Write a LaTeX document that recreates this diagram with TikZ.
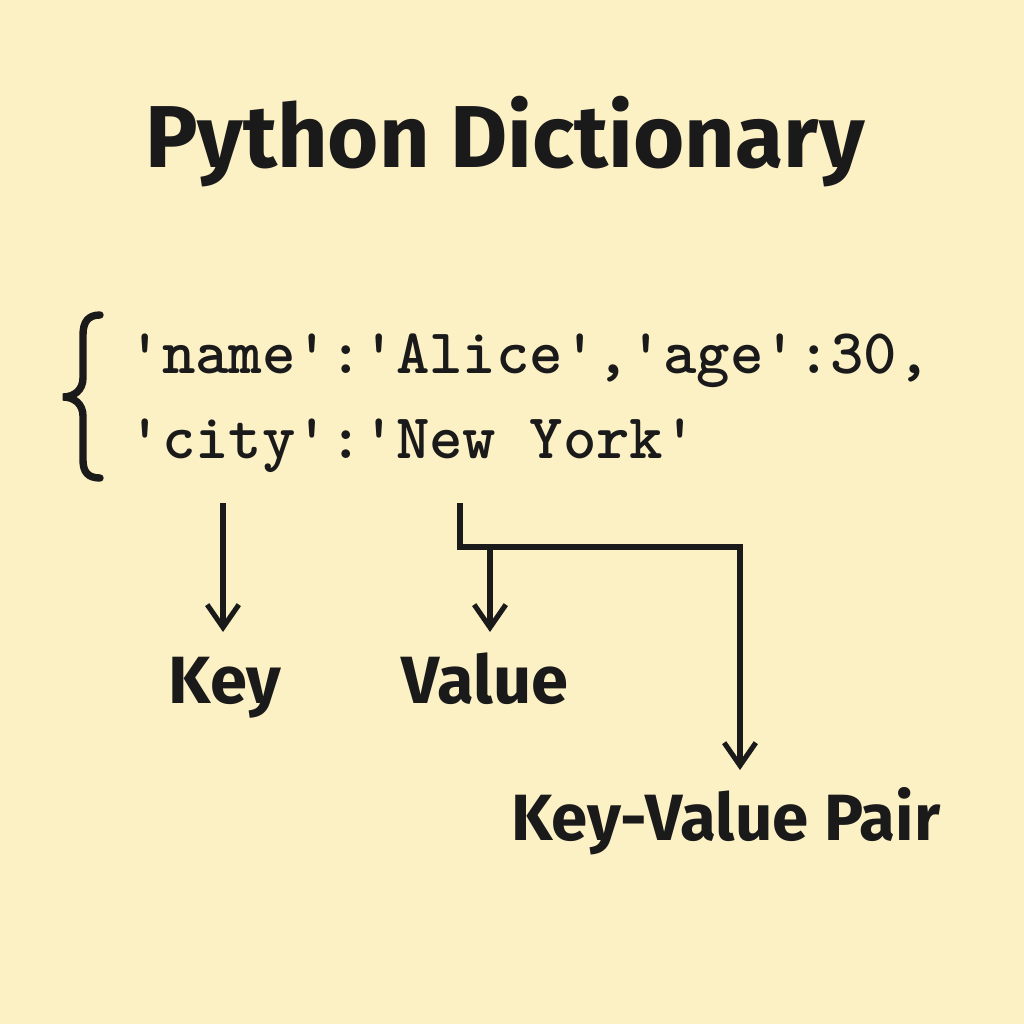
\documentclass[tikz,border=0pt]{standalone}
\usepackage{fontspec}
\setmainfont{Fira Sans}
\usepackage{xcolor}
\usetikzlibrary{arrows.meta}
\definecolor{paper}{HTML}{FCF0C5}
\definecolor{ink}{HTML}{1A1A1A}
\newcommand\lw{1.45pt}
\newcommand\tipgap{7pt}

\tikzset{
  arr/.style={draw=ink,line width=\lw,-{Straight Barb[length=6.5pt,width=9pt]}},
  lbl/.style={text=ink,font=\bfseries\fontsize{19}{22}\selectfont,inner sep=\tipgap,text height=13pt,anchor=base},
  code/.style={text=ink,font=\ttfamily\bfseries\fontsize{18.1}{20}\selectfont,inner sep=0pt,anchor=base west}
}

\begin{document}
\begin{tikzpicture}[x=0.01cm,y=-0.01cm]
    \fill[paper] (0,0) rectangle (1024,1024);
    \useasboundingbox (0,0) rectangle (1024,1024);

    \node[text=ink,font=\bfseries\fontsize{25}{30}\selectfont,inner sep=0pt,anchor=base] (title) at (505,167) {Python Dictionary};

    % the dict literal
    \draw[ink,line width=2.1pt,line cap=round] (100,315) .. controls (88,315) and (83,322) .. (83,335) -- (83,378)
      .. controls (83,390) and (74,397) .. (63,397) .. controls (74,397) and (83,404) .. (83,416) -- (83,460)
      .. controls (83,472) and (88,478) .. (100,478);
    \node[code] (line1) at (128,373) {'name':'Alice','age':30,};
    \node[code] (line2) at (128,458) {'city':'New York'};

    \node[lbl] (key) at (225,703) {Key};
    \node[lbl] (value) at (485,703) {Value};
    \node[lbl,font=\bfseries\fontsize{18.6}{20}\selectfont,text height=12.7pt] (pair) at (726,840) {Key-Value Pair};

    \coordinate (ks) at (223,503);
    \coordinate (vs) at (460,503);
    \coordinate (vj) at (490,547);
    \coordinate (vr) at (740,547);

    \draw[arr] (ks) -- (ks |- key.north);
    \draw[arr] (vj) -- (vj |- value.north);
    \draw[arr] (vs) |- (vr) -- (vr |- pair.north);
  \end{tikzpicture}
\end{document}
